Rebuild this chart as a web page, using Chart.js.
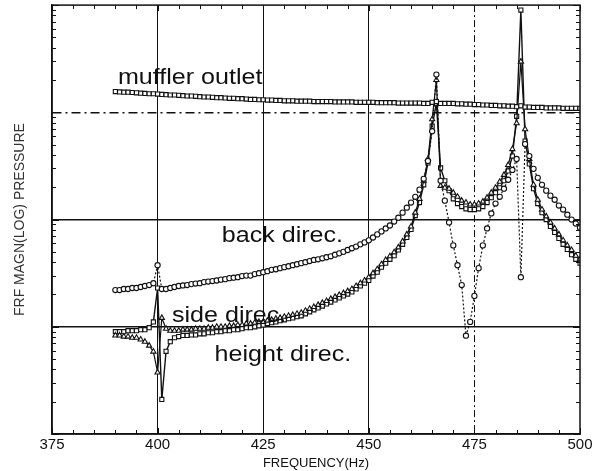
<!DOCTYPE html>
<html>
<head>
<meta charset="utf-8">
<script src="https://cdn.jsdelivr.net/npm/chart.js@4.4.1/dist/chart.umd.min.js"></script>
<style>
  html, body { margin: 0; padding: 0; background: #fff; }
</style>
</head>
<body>
<canvas id="grafico" width="605" height="471"></canvas>
<script>
// frequency grid (Hz) shared by all curves
const freq = [
  390, 391, 392, 393, 394, 395, 396, 397, 398, 399,
  400, 401, 402, 403, 404, 405, 406, 407, 408, 409,
  410, 411, 412, 413, 414, 415, 416, 417, 418, 419,
  420, 421, 422, 423, 424, 425, 426, 427, 428, 429,
  430, 431, 432, 433, 434, 435, 436, 437, 438, 439,
  440, 441, 442, 443, 444, 445, 446, 447, 448, 449,
  450, 451, 452, 453, 454, 455, 456, 457, 458, 459,
  460, 461, 462, 463, 464, 465, 466, 467, 468, 469,
  470, 471, 472, 473, 474, 475, 476, 477, 478, 479,
  480, 481, 482, 483, 484, 485, 486, 487, 488, 489,
  490, 491, 492, 493, 494, 495, 496, 497, 498, 499,
  500
];

const muffler = [
  15.6, 15.5, 15.4, 15.4, 15.3, 15.2, 15.1, 15.0, 14.9, 14.9,
  14.8, 14.7, 14.6, 14.5, 14.5, 14.4, 14.3, 14.2, 14.2, 14.1,
  14.0, 13.9, 13.9, 13.8, 13.7, 13.7, 13.6, 13.5, 13.5, 13.4,
  13.4, 13.3, 13.2, 13.2, 13.1, 13.1, 13.0, 13.0, 12.9, 12.9,
  12.8, 12.8, 12.8, 12.7, 12.7, 12.7, 12.7, 12.6, 12.6, 12.6,
  12.6, 12.6, 12.5, 12.5, 12.5, 12.5, 12.5, 12.4, 12.4, 12.4,
  12.4, 12.4, 12.3, 12.3, 12.3, 12.3, 12.3, 12.2, 12.2, 12.2,
  12.2, 12.2, 12.2, 12.1, 12.1, 12.4, 12.6, 12.1, 12.1, 12.1,
  12.1, 12.0, 12.0, 11.9, 11.9, 11.8, 11.8, 11.7, 11.7, 11.6,
  11.6, 11.5, 11.5, 11.4, 11.4, 11.3, 11.5, 11.2, 11.2, 11.1,
  11.1, 11.1, 11.0, 11.0, 11.0, 11.0, 10.9, 10.9, 10.9, 10.9,
  10.9
];

const back = [
  0.22, 0.22, 0.225, 0.225, 0.23, 0.23, 0.235, 0.24, 0.245, 0.255,
  0.375, 0.225, 0.225, 0.23, 0.235, 0.24, 0.243, 0.245, 0.25, 0.253,
  0.255, 0.261, 0.264, 0.267, 0.27, 0.275, 0.278, 0.284, 0.287, 0.29,
  0.297, 0.30, 0.30, 0.31, 0.316, 0.323, 0.33, 0.34, 0.344, 0.352,
  0.36, 0.367, 0.375, 0.383, 0.392, 0.40, 0.41, 0.42, 0.426, 0.435,
  0.445, 0.454, 0.47, 0.484, 0.50, 0.52, 0.54, 0.56, 0.587, 0.612,
  0.64, 0.68, 0.727, 0.775, 0.826, 0.88, 0.958, 1.04, 1.16, 1.29,
  1.44, 1.63, 1.90, 2.40, 3.52, 6.67, 22.5, 2.30, 1.50, 0.94,
  0.574, 0.375, 0.245, 0.0826, 0.111, 0.194, 0.352, 0.574, 0.826, 1.14,
  1.41, 1.63, 1.94, 2.35, 2.90, 3.67, 0.29, 5.06, 3.91, 2.97,
  2.45, 2.11, 1.86, 1.67, 1.53, 1.35, 1.24, 1.11, 1.0, 0.918,
  0.84
];

const side = [
  0.083, 0.083, 0.081, 0.081, 0.079, 0.079, 0.076, 0.0726, 0.0667, 0.0587,
  0.0375, 0.121, 0.0958, 0.0918, 0.0918, 0.0918, 0.094, 0.094, 0.094, 0.0958,
  0.0958, 0.0958, 0.098, 0.098, 0.10, 0.10, 0.10, 0.102, 0.102, 0.104,
  0.104, 0.107, 0.107, 0.109, 0.111, 0.111, 0.114, 0.116, 0.119, 0.121,
  0.124, 0.1265, 0.129, 0.132, 0.135, 0.141, 0.147, 0.153, 0.16, 0.167,
  0.174, 0.182, 0.19, 0.198, 0.206, 0.215, 0.225, 0.24, 0.255, 0.27,
  0.29, 0.316, 0.344, 0.383, 0.42, 0.454, 0.495, 0.55, 0.625, 0.727,
  0.861, 1.16, 1.56, 2.30, 3.67, 8.61, 20.0, 2.06, 1.98, 1.94,
  1.78, 1.63, 1.50, 1.44, 1.38, 1.38, 1.41, 1.47, 1.60, 1.78,
  1.98, 2.25, 2.61, 3.23, 4.54, 7.91, 29.7, 6.96, 3.67, 2.11,
  1.53, 1.24, 1.07, 0.94, 0.826, 0.727, 0.64, 0.574, 0.52, 0.46,
  0.426
];

const height = [
  0.09, 0.09, 0.09, 0.092, 0.092, 0.092, 0.094, 0.094, 0.098, 0.111,
  0.23, 0.021, 0.059, 0.0726, 0.079, 0.081, 0.083, 0.083, 0.084, 0.084,
  0.086, 0.086, 0.088, 0.088, 0.09, 0.09, 0.092, 0.092, 0.094, 0.094,
  0.096, 0.098, 0.098, 0.10, 0.102, 0.104, 0.107, 0.109, 0.111, 0.114,
  0.116, 0.119, 0.121, 0.124, 0.1265, 0.132, 0.138, 0.144, 0.15, 0.156,
  0.163, 0.17, 0.178, 0.186, 0.194, 0.202, 0.211, 0.225, 0.24, 0.255,
  0.27, 0.297, 0.323, 0.36, 0.392, 0.426, 0.46, 0.52, 0.587, 0.68,
  0.808, 1.09, 1.44, 2.11, 3.37, 7.42, 12.1, 3.03, 2.30, 1.86,
  1.56, 1.41, 1.32, 1.26, 1.24, 1.24, 1.26, 1.32, 1.44, 1.60,
  1.78, 1.98, 2.30, 2.84, 3.91, 9.18, 89.9, 5.39, 3.30, 1.94,
  1.41, 1.16, 1.0, 0.861, 0.758, 0.667, 0.587, 0.527, 0.47, 0.426,
  0.392
];

const xTicks = [375, 400, 425, 450, 475, 500];
const yDecades = [0.01, 0.1, 1, 10, 100];

// curve captions, anchored in data coordinates
const notas = [
  { text: 'muffler outlet', f: 390.6, v: 18.2 },
  { text: 'back direc.', f: 415.2, v: 0.612 },
  { text: 'side direc.', f: 403.4, v: 0.111 },
  { text: 'height direc.', f: 413.5, v: 0.0484 }
];

const FONT = '"Liberation Sans", Arial, sans-serif';
const INK = '#111';

const puntos = (serie) => serie.map((v, i) => ({ x: freq[i], y: v }));

const marco = {
  id: 'marco',
  afterDraw(chart) {
    const { ctx, chartArea: a, scales: { x, y } } = chart;
    ctx.save();
    ctx.strokeStyle = INK;
    ctx.lineWidth = 1.5;
    ctx.strokeRect(a.left, a.top, a.right - a.left, a.bottom - a.top);

    // inward log ticks on left and right
    ctx.lineWidth = 1;
    for (let d = 0; d < yDecades.length; d++) {
      for (let k = 1; k <= 9; k++) {
        if (d === yDecades.length - 1 && k > 1) break;
        const py = Math.round(y.getPixelForValue(yDecades[d] * k)) + 0.5;
        const len = k === 1 ? 7 : 4;
        ctx.beginPath();
        ctx.moveTo(a.left, py); ctx.lineTo(a.left + len, py);
        ctx.moveTo(a.right, py); ctx.lineTo(a.right - len, py);
        ctx.stroke();
      }
    }
    // inward frequency ticks every 5 Hz
    for (let f = 375; f <= 500; f += 5) {
      const px = Math.round(x.getPixelForValue(f)) + 0.5;
      const len = f % 25 === 0 ? 6 : 4;
      ctx.beginPath();
      ctx.moveTo(px, a.bottom); ctx.lineTo(px, a.bottom - len);
      ctx.moveTo(px, a.top); ctx.lineTo(px, a.top + len);
      ctx.stroke();
    }

    // captions, slightly wide like the scanned lettering
    ctx.fillStyle = INK;
    ctx.font = '22px ' + FONT;
    ctx.textBaseline = 'alphabetic';
    notas.forEach(n => {
      ctx.save();
      ctx.translate(x.getPixelForValue(n.f), y.getPixelForValue(n.v));
      ctx.scale(1.14, 1);
      ctx.fillText(n.text, 0, 0);
      ctx.restore();
    });
    ctx.restore();
  }
};

const serie = (datos, estilo, extra) => Object.assign({
  data: puntos(datos),
  borderColor: INK,
  borderWidth: 1.2,
  pointStyle: estilo,
  pointRadius: 2.6,
  pointBackgroundColor: '#fff',
  pointBorderColor: INK,
  pointBorderWidth: 1.1,
  tension: 0,
  fill: false
}, extra);

new Chart(document.getElementById('grafico'), {
  type: 'line',
  data: {
    datasets: [
      serie(muffler, 'rect', { label: 'muffler outlet', pointRadius: 2.9 }),
      serie(back, 'circle', { label: 'back direc.', borderDash: [2, 2] }),
      serie(side, 'triangle', { label: 'side direc.', pointRadius: 3 }),
      serie(height, 'rect', { label: 'height direc.', borderWidth: 1.4, pointRadius: 2.9 })
    ]
  },
  options: {
    responsive: false,
    animation: false,
    layout: { padding: { left: 0, right: 25, top: 5, bottom: 0 } },
    plugins: {
      legend: { display: false },
      tooltip: { enabled: false }
    },
    scales: {
      x: {
        type: 'linear',
        min: 375,
        max: 500,
        afterBuildTicks: s => { s.ticks = xTicks.map(v => ({ value: v })); },
        afterFit: s => { s.height = 37; },
        ticks: {
          color: INK,
          padding: 2,
          font: { family: FONT, size: 15 }
        },
        grid: {
          drawTicks: false,
          color: c => (c.tick && (c.tick.value === 375 || c.tick.value === 500)) ? 'rgba(0,0,0,0)' : INK,
          lineWidth: 1
        },
        border: {
          color: INK,
          width: 1.5,
          dash: c => (c.tick && c.tick.value === 475) ? [7, 3, 2, 3] : []
        },
        title: {
          display: true,
          text: 'FREQUENCY(Hz)',
          color: INK,
          font: { family: FONT, size: 13 },
          padding: { top: 0, bottom: 0 }
        }
      },
      y: {
        type: 'logarithmic',
        min: 0.01,
        max: 100,
        afterBuildTicks: s => { s.ticks = yDecades.map(v => ({ value: v })); },
        afterFit: s => { s.width = 52; },
        ticks: { display: false },
        grid: {
          drawTicks: false,
          color: c => (c.tick && (c.tick.value === 0.01 || c.tick.value === 100)) ? 'rgba(0,0,0,0)' : INK,
          lineWidth: 1.5
        },
        border: {
          color: INK,
          width: 1.5,
          dash: c => (c.tick && c.tick.value === 10) ? [9, 4, 2, 4] : []
        },
        title: {
          display: true,
          text: 'FRF MAGN(LOG) PRESSURE',
          color: '#333',
          font: { family: FONT, size: 14 },
          padding: { top: 12, bottom: 0 }
        }
      }
    }
  },
  plugins: [marco]
});
</script>
</body>
</html>
